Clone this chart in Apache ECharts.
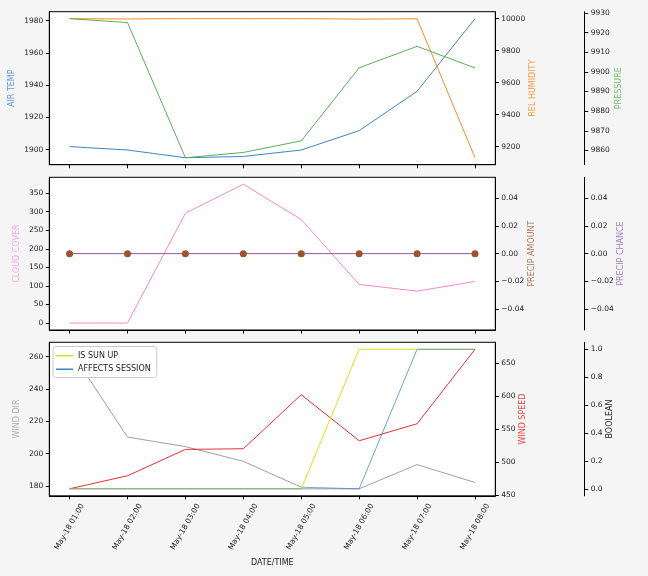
<!DOCTYPE html>
<html>
<head>
<meta charset="utf-8">
<script src="https://cdn.jsdelivr.net/npm/echarts@6/dist/echarts.min.js"></script>
<style>
html,body{margin:0;padding:0;background:#f5f5f5;}
#c{width:648px;height:576px;}
</style>
</head>
<body>
<div id="c"></div>
<script>
// ---- data ----
const timeLabels = ['May-18 01:00','May-18 02:00','May-18 03:00','May-18 04:00','May-18 05:00','May-18 06:00','May-18 07:00','May-18 08:00'];
const airTemp = [1901.9, 1899.8, 1895.0, 1895.8, 1899.8, 1911.8, 1936.2, 1981.2];
const relHumidity = [10000, 9998, 10000, 10000, 10000, 9997, 9999, 9131];
const pressure = [9927.1, 9925.1, 9856.3, 9859.0, 9864.9, 9902.1, 9913.0, 9902.0];
const cloudCover = [0, 0, 296, 374, 279, 104, 86, 112];
const precipAmount = [0, 0, 0, 0, 0, 0, 0, 0];
const precipChance = [0, 0, 0, 0, 0, 0, 0, 0];
const windDir = [264.5, 210.2, 204.3, 195.2, 179.2, 178.2, 193.2, 182.1];
const windSpeed = [459.1, 478.9, 518.9, 519.9, 601.9, 532.0, 557.8, 670.8];
const isSunUp = [0, 0, 0, 0, 0, 1, 1, 1];
const affectsSession = [0, 0, 0, 0, 0, 0, 1, 1];

// ---- tick labels ----
const xTicks = [0, 1, 2, 3, 4, 5, 6, 7];
const airTempTicks = [1900, 1920, 1940, 1960, 1980];
const humidityTicks = [9200, 9400, 9600, 9800, 10000];
const pressureTicks = [9860, 9870, 9880, 9890, 9900, 9910, 9920, 9930];
const cloudTicks = [0, 50, 100, 150, 200, 250, 300, 350];
const precipTicks = [-0.04, -0.02, 0, 0.02, 0.04];
const windDirTicks = [180, 200, 220, 240, 260];
const windSpeedTicks = [450, 500, 550, 600, 650];
const boolTicks = [0, 0.2, 0.4, 0.6, 0.8, 1.0];

const FONT = 'DejaVu Sans';
function padMin(e){ const r = e.max - e.min; return r === 0 ? e.min - 0.055 : e.min - 0.05 * r; }
function padMax(e){ const r = e.max - e.min; return r === 0 ? e.max + 0.055 : e.max + 0.05 * r; }
function pairs(arr){ return arr.map((v, i) => [i, v]); }
const fmtMinus = d => v => { const s = Math.abs(v).toFixed(d); return (v < -1e-12 ? '\u2212' : '') + s; };

function yAx(gridIndex, position, offset, name, color, nameGap, ticks, fmt){
  return {
    type: 'value', gridIndex, position, offset, name,
    nameLocation: 'middle', nameGap, nameMoveOverlap: false,
    nameTextStyle: { color, fontSize: 8, fontFamily: FONT },
    min: padMin, max: padMax,
    axisLine: { show: true, onZero: false, lineStyle: { color: '#000', width: 1 } },
    axisTick: { show: true, length: 3.5, customValues: ticks, lineStyle: { color: '#000', width: 1 } },
    axisLabel: { customValues: ticks, formatter: fmt, fontSize: 7.5, fontFamily: FONT, color: '#222', margin: 6 },
    splitLine: { show: false }
  };
}
function xAx(gridIndex, showLabels){
  return {
    type: 'value', gridIndex, min: padMin, max: padMax,
    name: showLabels ? 'DATE/TIME' : '', nameLocation: 'middle', nameGap: 63, nameMoveOverlap: false,
    nameTextStyle: { color: '#222', fontSize: 8, fontFamily: FONT },
    axisLine: { show: true, onZero: false, lineStyle: { color: '#000', width: 1 } },
    axisTick: { show: true, length: 3.5, customValues: xTicks, lineStyle: { color: '#000', width: 1 } },
    axisLabel: { show: showLabels, customValues: xTicks, formatter: v => timeLabels[Math.round(v)],
      rotate: 60, align: 'center', verticalAlign: 'middle', margin: 31,
      fontSize: 7.5, fontFamily: FONT, color: '#222' },
    splitLine: { show: false }
  };
}
function line(name, x, y, data, color, extra){
  return Object.assign({
    name, type: 'line', xAxisIndex: x, yAxisIndex: y, data: pairs(data),
    symbol: 'none', lineStyle: { color, width: 1 }, itemStyle: { color }, animation: false
  }, extra || {});
}

const gridBase = { left: 49.3, width: 446, show: true, backgroundColor: '#fff', borderColor: '#000', borderWidth: 1 };
const option = {
  backgroundColor: '#f5f5f5',
  animation: false,
  grid: [
    Object.assign({ top: 11.7, height: 153 }, gridBase),
    Object.assign({ top: 177.3, height: 152.7 }, gridBase),
    Object.assign({ top: 342.3, height: 153.5 }, gridBase)
  ],
  xAxis: [xAx(0, false), xAx(1, false), xAx(2, true)],
  yAxis: [
    yAx(0, 'left', 0, 'AIR TEMP', '#5b9bd5', 33, airTempTicks, v => String(v)),
    yAx(0, 'right', 0, 'REL HUMIDITY', '#ff9a3c', 34, humidityTicks, v => String(v)),
    yAx(0, 'right', 89.4, 'PRESSURE', '#6cc06c', 30, pressureTicks, v => String(v)),
    yAx(1, 'left', 0, 'CLOUD COVER', '#f7a8d6', 28.5, cloudTicks, v => String(v)),
    yAx(1, 'right', 0, 'PRECIP AMOUNT', '#b3775a', 33, precipTicks, fmtMinus(2)),
    yAx(1, 'right', 89.4, 'PRECIP CHANCE', '#a77ac4', 32.5, precipTicks, fmtMinus(2)),
    yAx(2, 'left', 0, 'WIND DIR', '#b0b0b0', 28.5, windDirTicks, v => String(v)),
    yAx(2, 'right', 0, 'WIND SPEED', '#ee4444', 24, windSpeedTicks, v => String(v)),
    yAx(2, 'right', 89.4, 'BOOLEAN', '#222', 21.5, boolTicks, v => v.toFixed(1))
  ],
  legend: {
    data: ['IS SUN UP', 'AFFECTS SESSION'],
    orient: 'vertical', left: 53, top: 346.5,
    backgroundColor: '#fff', borderColor: '#ccc', borderWidth: 1, borderRadius: 3,
    padding: [4, 6, 3, 3], itemGap: 3, itemWidth: 17, itemHeight: 1.5, icon: 'rect', itemTextGap: 5,
    textStyle: { fontSize: 8, fontFamily: FONT, color: '#222', lineHeight: 10.5 }
  },
  series: [
    line('AIR TEMP', 0, 0, airTemp, '#3c86c4'),
    line('REL HUMIDITY', 0, 1, relHumidity, '#ff8a1e'),
    line('PRESSURE', 0, 2, pressure, '#55b255'),
    line('CLOUD COVER', 1, 3, cloudCover, '#f58ac8'),
    line('PRECIP CHANCE', 1, 5, precipChance, '#8c5a9c'),
    line('PRECIP AMOUNT', 1, 4, precipAmount, '#a0522d', {
      symbol: 'circle', symbolSize: 7, showSymbol: true,
      lineStyle: { color: '#a0522d', width: 1, opacity: 0 }, itemStyle: { color: '#a0522d' }
    }),
    line('WIND DIR', 2, 6, windDir, '#a0a0a0'),
    line('WIND SPEED', 2, 7, windSpeed, '#e83030'),
    line('IS SUN UP', 2, 8, isSunUp, '#e0e010'),
    line('AFFECTS SESSION', 2, 8, affectsSession, '#3c86c4', { lineStyle: { color: '#3c86c4', width: 1, opacity: 0.75 } })
  ]
};
const chart = echarts.init(document.getElementById('c'), null, { renderer: 'canvas' });
chart.setOption(option);
</script>
</body>
</html>
